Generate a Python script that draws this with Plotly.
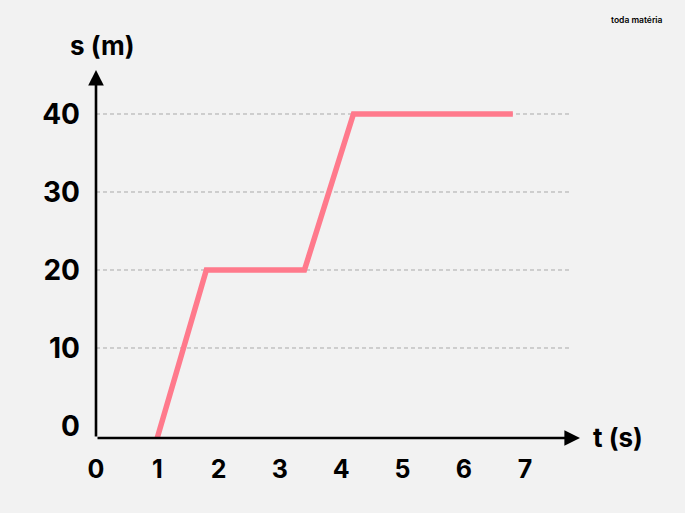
import plotly.graph_objects as go

# data
t_values = [1, 1.8, 3.4, 4.2, 6.8]
s_values = [-1.5, 20, 20, 40, 40]
x_ticks = [0, 1, 2, 3, 4, 5, 6, 7]
y_ticks = [0, 10, 20, 30, 40]
grid_levels = [10, 20, 30, 40]
x_title = "t (s)"
y_title = "s (m)"
brand = "toda matéria"

BG = "#f2f2f2"
PINK = "#ff7a8c"
FONT = "Inter"

W, H = 685, 513
ML, MR, MT, MB = 96, 105, 70, 75
X_MAX = (W - ML - MR) / 61.3
S_MIN = -1.54
S_MAX = S_MIN + (H - MT - MB) / 7.8
GRID_END = 7.73

fig = go.Figure()
fig.add_trace(go.Scatter(
    x=t_values, y=s_values, mode="lines",
    line=dict(color=PINK, width=5.5),
    hoverinfo="skip", showlegend=False,
))

for g in grid_levels:
    fig.add_shape(type="line", xref="x", yref="y", x0=0, x1=GRID_END, y0=g, y1=g,
                  line=dict(color="#a9a9a9", width=1, dash="4px,3px"), layer="below")

# axes with arrows
fig.add_annotation(xref="x domain", yref="y domain", x=1.0, y=0,
                   ax=-(W - ML - MR), ay=0, showarrow=True, arrowhead=2,
                   arrowsize=1.2, arrowwidth=2.6, arrowcolor="black", text="", standoff=0)
fig.add_annotation(xref="x domain", yref="y domain", x=0, y=1.0,
                   ax=0, ay=(H - MT - MB), showarrow=True, arrowhead=2,
                   arrowsize=1.2, arrowwidth=2.6, arrowcolor="black", text="", standoff=0)

fig.add_annotation(xref="paper", yref="paper", x=(618 - ML) / (W - ML - MR),
                   y=(H - MB - 437) / (H - MT - MB), text=x_title, showarrow=False,
                   font=dict(family=FONT, size=26, color="black", weight=700),
                   xanchor="center", yanchor="middle")
fig.add_annotation(xref="paper", yref="paper", x=(102 - ML) / (W - ML - MR),
                   y=(H - MB - 46) / (H - MT - MB), text=y_title, showarrow=False,
                   font=dict(family=FONT, size=26, color="black", weight=700),
                   xanchor="center", yanchor="middle")
fig.add_annotation(xref="paper", yref="paper", x=(637 - ML) / (W - ML - MR),
                   y=(H - MB - 20) / (H - MT - MB), text=brand, showarrow=False,
                   font=dict(family=FONT, size=8.5, color="black", weight=600),
                   xanchor="center", yanchor="middle")

fig.update_xaxes(range=[0, X_MAX], tickvals=x_ticks, ticktext=[str(v) for v in x_ticks],
                 showgrid=False, zeroline=False, showline=False, ticks="",
                 ticklabelstandoff=14,
                 tickfont=dict(family=FONT, size=25, color="black", weight=700))
fig.update_yaxes(range=[S_MIN, S_MAX], tickvals=y_ticks, ticktext=[str(v) for v in y_ticks],
                 showgrid=False, zeroline=False, showline=False, ticks="",
                 ticklabelstandoff=15,
                 tickfont=dict(family=FONT, size=28, color="black", weight=700))

fig.update_layout(width=W, height=H, margin=dict(l=ML, r=MR, t=MT, b=MB),
                  paper_bgcolor=BG, plot_bgcolor=BG, showlegend=False)

fig.write_html("out.html", post_script="document.body.style.margin='0';",
               config={"displayModeBar": False})
